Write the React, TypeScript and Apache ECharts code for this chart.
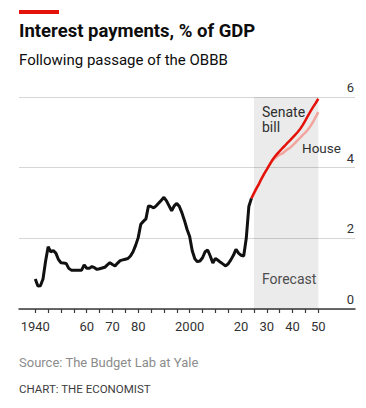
import React, { useEffect, useRef } from "react";
import * as echarts from "echarts";

const historyYears = [
  1940, 1941, 1942, 1943, 1944, 1945, 1946, 1947, 1948, 1949,
  1950, 1951, 1952, 1953, 1954, 1955, 1956, 1957, 1958, 1959,
  1960, 1961, 1962, 1963, 1964, 1965, 1966, 1967, 1968, 1969,
  1970, 1971, 1972, 1973, 1974, 1975, 1976, 1977, 1978, 1979,
  1980, 1981, 1982, 1983, 1984, 1985, 1986, 1987, 1988, 1989,
  1990, 1991, 1992, 1993, 1994, 1995, 1996, 1997, 1998, 1999,
  2000, 2001, 2002, 2003, 2004, 2005, 2006, 2007, 2008, 2009,
  2010, 2011, 2012, 2013, 2014, 2015, 2016, 2017, 2018, 2019,
  2020, 2021, 2022, 2023, 2024,
];
const historyValues = [
  0.85, 0.65, 0.66, 0.85, 1.35, 1.76, 1.62, 1.65, 1.58, 1.4,
  1.31, 1.3, 1.29, 1.15, 1.1, 1.1, 1.1, 1.1, 1.1, 1.25,
  1.15, 1.15, 1.2, 1.17, 1.12, 1.14, 1.16, 1.18, 1.25, 1.31,
  1.26, 1.22, 1.3, 1.37, 1.39, 1.41, 1.43, 1.5, 1.62, 1.8,
  2.02, 2.4, 2.48, 2.55, 2.92, 2.9, 2.86, 2.92, 3.0, 3.08,
  3.16, 3.06, 2.92, 2.78, 2.92, 2.99, 2.9, 2.72, 2.5, 2.25,
  2.05, 1.65, 1.42, 1.34, 1.36, 1.45, 1.62, 1.67, 1.5, 1.3,
  1.43, 1.38, 1.32, 1.27, 1.22, 1.28, 1.39, 1.52, 1.69, 1.58,
  1.52, 1.5, 2.0, 2.9, 3.13,
];

const senateYears = [
  2024, 2025, 2026, 2027, 2028, 2029, 2030, 2031, 2032, 2033,
  2034, 2035, 2036, 2037, 2038, 2039, 2040, 2041, 2042, 2043,
  2044, 2045, 2046, 2047, 2048, 2049, 2050,
];
const senateValues = [
  3.13, 3.28, 3.42, 3.55, 3.7, 3.83, 3.95, 4.08, 4.2, 4.3,
  4.39, 4.47, 4.55, 4.62, 4.7, 4.77, 4.85, 4.93, 5.01, 5.1,
  5.21, 5.34, 5.47, 5.6, 5.72, 5.83, 5.95,
];

const houseYears = [
  2024, 2025, 2026, 2027, 2028, 2029, 2030, 2031, 2032, 2033,
  2034, 2035, 2036, 2037, 2038, 2039, 2040, 2041, 2042, 2043,
  2044, 2045, 2046, 2047, 2048, 2049, 2050,
];
const houseValues = [
  3.13, 3.28, 3.42, 3.55, 3.7, 3.83, 3.95, 4.07, 4.18, 4.26,
  4.32, 4.37, 4.4, 4.46, 4.52, 4.56, 4.63, 4.7, 4.78, 4.85,
  4.93, 5.0, 5.08, 5.18, 5.3, 5.44, 5.57,
];

const forecastStart = 2025;
const forecastEnd = 2050;

const xTickValues = [
  1940, 1945, 1950, 1955, 1960, 1965, 1970, 1975, 1980, 1985, 1990, 1995,
  2000, 2005, 2010, 2015, 2020, 2025, 2030, 2035, 2040, 2045, 2050,
];
const xLabelValues = [1940, 1960, 1970, 1980, 2000, 2020, 2030, 2040, 2050];

const FONT = "Roboto, 'Noto Sans', sans-serif";

function pairs(xs: number[], ys: number[]) {
  return xs.map((x, i) => [x, ys[i]]);
}

export default function App() {
  const ref = useRef<HTMLDivElement>(null);

  useEffect(() => {
    if (!ref.current) return;
    const chart = echarts.init(ref.current, undefined, { renderer: "svg" });
    const option: any = {
      animation: false,
      backgroundColor: "#ffffff",
      textStyle: { fontFamily: FONT },
      grid: { left: 19, right: 11, top: 97, bottom: 99 },
      xAxis: {
        type: "value",
        min: 1933.67,
        max: 2064.26,
        splitLine: { show: false },
        axisLine: { show: true, lineStyle: { color: "#3a3a3a", width: 1.5 } },
        axisTick: {
          show: true,
          customValues: xTickValues,
          length: 4,
          lineStyle: { color: "#3a3a3a", width: 1.2 },
        },
        axisLabel: {
          customValues: xLabelValues,
          margin: 11,
          fontSize: 13,
          color: "#333333",
          fontFamily: FONT,
          formatter: (v: number) =>
            v === 1940 || v === 2000 ? String(v) : String(v).slice(2),
        },
      },
      yAxis: {
        type: "value",
        position: "right",
        min: 0,
        max: 6,
        interval: 2,
        axisLine: { show: false },
        axisTick: { show: false },
        splitLine: { show: true, lineStyle: { color: "#d6d6d6", width: 1 } },
        axisLabel: {
          inside: true,
          margin: 1,
          fontSize: 13,
          color: "#333333",
          fontFamily: FONT,
          verticalAlign: "bottom",
          padding: [0, 0, 3, 0],
        },
      },
      series: [
        {
          type: "line",
          z: 1,
          data: [[forecastStart, 0]],
          symbol: "none",
          lineStyle: { width: 0, opacity: 0 },
          silent: true,
          markArea: {
            silent: true,
            itemStyle: { color: "rgba(0,0,0,0.08)" },
            data: [[{ xAxis: forecastStart, yAxis: 0 }, { xAxis: forecastEnd, yAxis: 6 }]],
          },
        },
        {
          name: "House",
          type: "line",
          data: pairs(houseYears, houseValues),
          symbol: "none",
          lineStyle: { color: "#f2a59d", width: 2.5 },
        },
        {
          name: "Senate bill",
          type: "line",
          data: pairs(senateYears, senateValues),
          symbol: "none",
          lineStyle: { color: "#e3120b", width: 2.5 },
        },
        {
          name: "History",
          type: "line",
          data: pairs(historyYears, historyValues),
          symbol: "none",
          lineStyle: { color: "#111111", width: 3 },
        },
      ],
      graphic: [
        { type: "rect", shape: { x: 19, y: 10, width: 40, height: 4 }, style: { fill: "#e3120b" } },
        {
          type: "text",
          x: 19,
          y: 31,
          style: {
            text: "Interest payments, % of GDP",
            fontFamily: FONT,
            fontWeight: "bold",
            fontSize: 18.5,
            fill: "#0d0d0d",
            verticalAlign: "middle",
          },
        },
        {
          type: "text",
          x: 19,
          y: 60,
          style: {
            text: "Following passage of the OBBB",
            fontFamily: FONT,
            fontSize: 15,
            fill: "#0d0d0d",
            verticalAlign: "middle",
          },
        },
        {
          type: "text",
          x: 262,
          y: 112,
          style: { text: "Senate", fontFamily: FONT, fontSize: 14, fill: "#333333", verticalAlign: "middle" },
        },
        {
          type: "text",
          x: 262,
          y: 127,
          style: { text: "bill", fontFamily: FONT, fontSize: 14, fill: "#333333", verticalAlign: "middle" },
        },
        {
          type: "text",
          x: 302,
          y: 148,
          style: { text: "House", fontFamily: FONT, fontSize: 13.5, fill: "#333333", verticalAlign: "middle" },
        },
        {
          type: "text",
          x: 262,
          y: 279,
          style: { text: "Forecast", fontFamily: FONT, fontSize: 14, fill: "#555555", verticalAlign: "middle" },
        },
        {
          type: "text",
          x: 19,
          y: 362,
          style: {
            text: "Source: The Budget Lab at Yale",
            fontFamily: FONT,
            fontSize: 13,
            fill: "#8c8c8c",
            verticalAlign: "middle",
          },
        },
        {
          type: "text",
          x: 19,
          y: 389,
          style: {
            text: "CHART: THE ECONOMIST",
            fontFamily: FONT,
            fontSize: 11.5,
            fill: "#3d3d3d",
            verticalAlign: "middle",
          },
        },
      ],
    };
    chart.setOption(option);
    return () => chart.dispose();
  }, []);

  return (
    <div
      ref={ref}
      style={{ position: "fixed", left: 0, top: 0, width: 366, height: 408, background: "#fff" }}
    />
  );
}
